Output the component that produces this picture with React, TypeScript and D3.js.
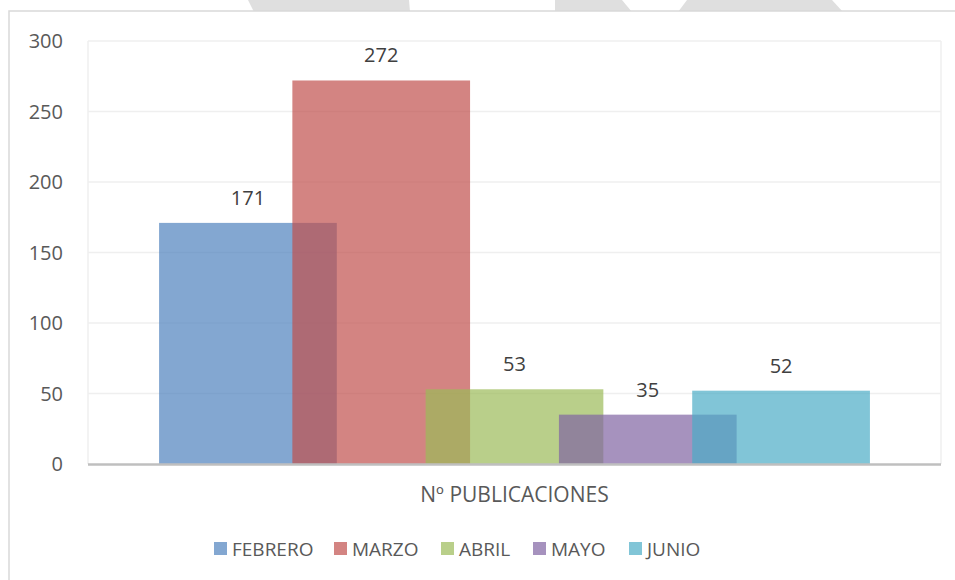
import * as d3 from 'd3';
import React, { useEffect, useRef } from 'react';

// data
const categories = ['Nº PUBLICACIONES'];
const months = ['FEBRERO', 'MARZO', 'ABRIL', 'MAYO', 'JUNIO'];
const values = [171, 272, 53, 35, 52];
const colors = ['#4F81BD', '#C0504D', '#9BBB59', '#8064A2', '#4BACC6'];
const yTicks = [0, 50, 100, 150, 200, 250, 300];

// layout
const W = 955;
const H = 580;
const plot = { left: 88, right: 941, top: 41, bottom: 464 };
const legendX = [214, 334, 441, 533, 629];
const overlap = 0.25;
const font = "'Open Sans', sans-serif";
const textColor = '#595959';

const App = () => {
    const ref = useRef<SVGSVGElement>(null);

    useEffect(() => {
        const svg = d3.select(ref.current);
        svg.selectAll('*').remove();

        // watermark pieces peeking above the frame
        const marks = [
            [[248, 0], [409, 0], [410, 12], [254, 12]],
            [[555, 0], [622, 0], [632, 12], [555, 12]],
            [[687, 0], [832, 0], [843, 12], [678, 12]],
        ];
        svg.append('g').selectAll('path')
            .data(marks)
            .enter()
            .append('path')
            .attr('d', (d) => 'M' + d.join('L') + 'Z')
            .attr('fill', '#dfdfdf');

        // chart frame
        svg.append('rect')
            .attr('x', 9).attr('y', 11)
            .attr('width', W).attr('height', H)
            .attr('fill', '#fff')
            .attr('stroke', '#d9d9d9')
            .attr('stroke-width', 1.5);

        const y = d3.scaleLinear().domain([0, 300]).range([plot.bottom, plot.top]);
        const x0 = d3.scaleBand()
            .domain(categories)
            .range([plot.left, plot.right])
            .paddingInner(0)
            .paddingOuter(0.1);
        const barW = x0.bandwidth() / (months.length - (months.length - 1) * overlap);
        const x1 = d3.scalePoint()
            .domain(months)
            .range([0, x0.bandwidth() - barW]);

        // gridlines
        svg.append('g').selectAll('line')
            .data(yTicks.filter((t) => t > 0))
            .enter()
            .append('line')
            .attr('x1', plot.left).attr('x2', plot.right)
            .attr('y1', (d) => y(d)).attr('y2', (d) => y(d))
            .attr('stroke', '#efefef')
            .attr('stroke-width', 1.5);

        // plot area sides
        svg.append('g').selectAll('line')
            .data([plot.left, plot.right])
            .enter()
            .append('line')
            .attr('x1', (d) => d).attr('x2', (d) => d)
            .attr('y1', plot.top).attr('y2', plot.bottom)
            .attr('stroke', '#efefef')
            .attr('stroke-width', 1.5);

        // y tick labels
        svg.append('g').selectAll('text')
            .data(yTicks)
            .enter()
            .append('text')
            .attr('x', 63)
            .attr('y', (d) => y(d) + 7)
            .attr('text-anchor', 'end')
            .attr('font-family', font)
            .attr('font-size', 20)
            .attr('fill', textColor)
            .text((d) => d);

        const bars = months.map((m, i) => ({ m, v: values[i], c: colors[i], cat: categories[0] }));

        // bars
        svg.append('g').selectAll('rect')
            .data(bars)
            .enter()
            .append('rect')
            .attr('x', (d) => (x0(d.cat) as number) + (x1(d.m) as number))
            .attr('y', (d) => y(d.v))
            .attr('width', barW)
            .attr('height', (d) => y(0) - y(d.v))
            .attr('fill', (d) => d.c)
            .attr('fill-opacity', 0.7);

        // x axis line
        svg.append('line')
            .attr('x1', plot.left).attr('x2', plot.right)
            .attr('y1', y(0) + 0.5).attr('y2', y(0) + 0.5)
            .attr('stroke', '#bfbfbf')
            .attr('stroke-width', 2.5);

        // value labels
        svg.append('g').selectAll('text')
            .data(bars)
            .enter()
            .append('text')
            .attr('x', (d) => (x0(d.cat) as number) + (x1(d.m) as number) + barW / 2)
            .attr('y', (d) => y(d.v) - 18)
            .attr('text-anchor', 'middle')
            .attr('font-family', font)
            .attr('font-size', 20)
            .attr('fill', '#404040')
            .text((d) => d.v);

        // category label
        svg.append('text')
            .attr('x', (x0(categories[0]) as number) + x0.bandwidth() / 2)
            .attr('y', 502)
            .attr('text-anchor', 'middle')
            .attr('font-family', font)
            .attr('font-size', 21)
            .attr('fill', textColor)
            .text(categories[0]);

        // legend
        const lg = svg.append('g').selectAll('g')
            .data(bars)
            .enter()
            .append('g')
            .attr('transform', (d, i) => 'translate(' + legendX[i] + ',542)');
        lg.append('rect')
            .attr('width', 13).attr('height', 13)
            .attr('fill', (d) => d.c)
            .attr('fill-opacity', 0.7);
        lg.append('text')
            .attr('x', 18).attr('y', 14)
            .attr('font-family', font)
            .attr('font-size', 19)
            .attr('fill', textColor)
            .text((d) => d.m);
    }, []);

    return (
        <div style={{ position: 'fixed', left: 0, top: 0 }}>
            <svg ref={ref} width={W} height={H} style={{ display: 'block' }}></svg>
        </div>
    );
};

export default App;
